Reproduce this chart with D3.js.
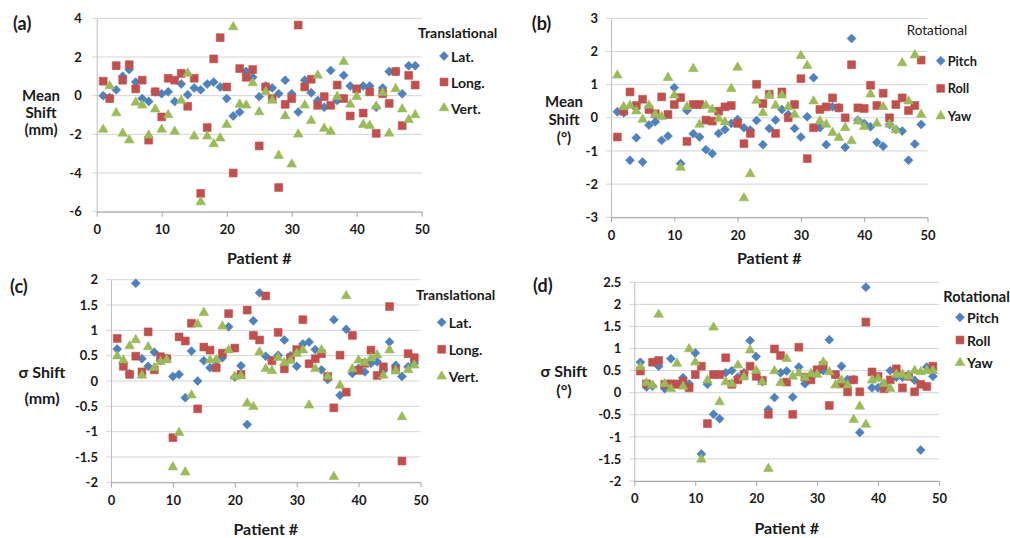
<!DOCTYPE html>
<html>
<head>
<meta charset="utf-8">
<script src="https://cdn.jsdelivr.net/npm/d3@7"></script>
<style>
html,body{margin:0;padding:0;background:#fff;}
svg text{font-family:Lato,"Open Sans",sans-serif;fill:#1a1a1a;}
</style>
</head>
<body>
<svg id="chart" width="1010" height="538"></svg>
<script>
// ---------- data ----------
const patients = [1,2,3,4,5,6,7,8,9,10,11,12,13,14,15,16,17,18,19,20,21,22,23,24,25,26,27,28,29,30,31,32,33,34,35,36,37,38,39,40,41,42,43,44,45,46,47,48,49];
const xTickValues = [0,10,20,30,40,50];

// (a) mean translational shift (mm)
const aLat  = [0.0,-0.1,0.3,1.0,1.35,0.7,-0.15,-0.3,0.2,0.1,0.2,-0.3,0.6,0.05,0.4,0.3,0.6,0.7,0.45,-0.15,-1.05,-0.85,1.25,0.95,-0.05,0.5,0.4,0.1,0.8,0.1,-0.85,0.8,0.15,-0.25,-0.6,1.3,-0.25,1.05,0.5,0.35,0.5,0.5,-0.6,0.4,1.25,1.25,0.1,1.55,1.55];
const aLong = [0.75,-0.15,1.55,0.8,1.6,0.35,0.8,-2.3,0.2,-1.1,0.9,0.8,1.15,-0.55,0.9,-5.05,-1.65,1.9,3.0,0.45,-4.0,1.4,0.95,1.35,-2.6,0.45,-0.15,-4.75,-0.45,-0.15,3.65,0.45,0.85,-0.5,-0.05,-0.5,0.55,-0.15,-1.05,0.35,-0.9,0.2,-1.95,0.1,-0.4,1.25,-1.55,1.05,0.55];
const aVert = [-1.75,0.5,-0.9,-1.95,-2.3,-0.35,-0.5,-2.05,-0.7,-1.75,-1.0,-1.85,-0.25,1.15,-2.1,-5.5,-2.1,-2.5,-2.2,-1.5,3.55,-0.45,-0.5,0.65,-0.85,0.2,-0.25,-3.1,-1.05,-3.55,-2.0,-0.5,-1.3,1.05,-1.7,-1.85,-0.05,1.75,-0.45,-0.05,-1.5,-1.55,-0.55,0.15,-1.95,0.35,-0.7,-1.25,-1.0];
const aTicks = [-6,-4,-2,0,2,4];

// (b) mean rotational shift (deg)
const bPitch = [0.18,0.15,-1.28,-0.6,-1.33,-0.22,-0.12,-0.68,-0.55,0.91,-1.38,0.22,-0.48,-0.58,-0.96,-1.08,-0.47,-0.35,-0.17,-0.05,-0.3,-0.37,-0.08,-0.81,-0.32,-0.07,0.25,0.1,-0.32,-0.58,0.03,1.21,-0.3,-0.81,0.33,0.3,-0.89,2.39,-0.07,-0.17,-0.27,-0.74,-0.86,-0.2,-0.35,-0.4,-1.28,-0.79,-0.2];
const bRoll  = [-0.58,0.2,0.78,0.37,0.56,0.25,0.12,0.63,0.1,0.4,0.61,-0.71,0.4,0.4,-0.07,-0.1,0.2,0.33,0.37,-0.17,-0.78,-0.47,1.01,0.43,0.71,-0.47,0.78,0.0,0.4,1.18,-1.23,-0.3,0.25,0.33,0.6,0.3,0.0,1.6,0.3,0.28,0.98,0.37,0.74,0.0,0.4,0.6,0.22,0.37,1.74];
const bYaw   = [1.28,0.33,0.37,0.2,-0.05,0.37,0.1,0.03,1.21,0.68,-1.5,0.33,1.48,-0.2,0.37,0.25,-0.03,-0.13,0.88,1.52,-2.42,-1.69,0.52,0.15,0.68,0.37,0.68,0.33,0.1,1.87,1.57,0.5,-0.1,-0.2,-0.45,-0.6,-0.3,-0.7,-0.1,-0.27,0.71,-0.17,0.33,-0.2,-0.37,1.65,0.5,1.89,0.1];
const bTicks = [-3,-2,-1,0,1,2,3];

// (c) sigma translational shift (mm)
const cLat  = [0.63,0.35,0.15,1.93,0.44,0.29,0.57,0.4,0.45,0.09,0.13,-0.33,0.59,0.0,0.4,0.26,0.3,0.46,1.07,0.08,0.3,-0.86,1.19,1.74,0.49,0.4,0.51,0.81,0.5,0.29,0.73,0.77,0.62,0.22,0.03,1.21,-0.28,1.02,0.15,0.25,0.18,0.35,0.38,0.2,0.77,0.31,0.09,0.28,0.35];
const cLong = [0.84,0.29,0.13,0.49,0.18,0.97,0.22,0.48,0.44,-1.12,0.87,0.79,1.14,-0.55,0.67,0.61,0.26,0.55,1.33,0.65,0.13,1.4,0.9,0.81,1.68,0.4,0.96,0.24,0.46,0.62,1.21,0.34,0.44,0.54,0.09,-0.53,0.51,-0.22,0.9,0.21,0.35,0.61,0.11,0.28,1.47,0.22,-1.58,0.54,0.46];
const cVert = [0.49,0.41,0.69,0.81,0.11,0.67,0.26,0.38,0.42,-1.7,-1.02,-1.8,-0.28,1.12,1.35,0.41,0.42,1.08,0.61,0.09,0.1,-0.44,-0.51,0.57,0.24,0.2,0.46,0.36,0.4,0.54,0.61,-0.48,0.24,0.61,0.09,-1.89,-0.09,1.68,0.24,0.41,0.36,0.45,0.51,0.11,0.61,0.2,-0.71,0.22,0.31];
const cTicks = [-2,-1.5,-1,-0.5,0,0.5,1,1.5,2];

// (d) sigma rotational shift (deg)
const dPitch = [0.69,0.13,0.15,0.6,0.09,0.77,0.2,0.34,0.2,0.9,-1.39,0.19,-0.49,-0.59,0.45,0.5,0.35,0.45,1.18,0.82,0.25,-0.38,-0.11,0.45,0.49,-0.1,0.58,0.2,0.35,0.5,0.5,1.2,0.4,0.6,0.3,0.3,-0.9,2.39,0.11,0.11,0.2,0.5,0.35,0.35,0.4,0.28,-1.3,0.58,0.37];
const dRoll  = [0.49,0.2,0.69,0.73,0.19,0.2,0.19,0.25,0.11,0.41,0.6,-0.7,0.41,0.41,0.79,0.19,0.29,0.41,0.6,0.37,0.28,-0.49,0.99,0.84,0.24,-0.49,1.03,0.35,0.29,0.52,0.62,-0.29,0.41,0.2,0.02,0.29,0.02,1.6,0.47,0.37,0.09,0.29,0.54,0.11,0.37,0.02,0.19,0.14,0.6];
const dYaw   = [0.58,0.22,0.17,1.77,0.2,0.09,0.66,0.14,0.99,0.69,-1.51,0.28,1.48,-0.21,0.24,0.2,0.62,0.35,0.96,0.5,0.24,-1.72,0.49,0.22,0.77,0.37,0.44,0.34,0.43,0.41,0.69,0.47,0.17,0.28,0.17,-0.61,-0.31,-0.72,0.28,0.32,0.2,0.09,0.41,0.41,0.37,0.5,0.47,0.5,0.5];
const dTicks = [-2,-1.5,-1,-0.5,0,0.5,1,1.5,2,2.5];

const transNames = ["Lat.","Long.","Vert."];
const rotNames = ["Pitch","Roll","Yaw"];

// ---------- layout / style ----------
const colors = ["#4F81BD","#C0504D","#9BBB59"];
const shapes = ["diamond","square","triangle"];

const panels = [
  {label:"(a)", lab:[13,23], series:[aLat,aLong,aVert], names:transNames, ticks:aTicks,
   x:[96.7,421.7], y:[211.7,18.3], tickGap:15,
   ytitle:["Mean","Shift","(mm)"], ytx:41, yty:[95,112,129], ytfs:15,
   leg:{title:"Translational", tx:418, ty:32, tw:700, tfs:14, mx:444, my:56, dy:26, fs:14},
   xt:257},
  {label:"(b)", lab:[531.7,23.3], series:[bPitch,bRoll,bYaw], names:rotNames, ticks:bTicks,
   x:[611,927.5], y:[217.3,18.3], tickGap:13,
   ytitle:["Mean","Shift","(°)"], ytx:564, yty:[101,118.5,137], ytfs:15,
   leg:{title:"Rotational", tx:906.7, ty:29.5, tw:400, tfs:13.5, mx:940.7, my:60.7, dy:27.7, fs:12.8},
   xt:257},
  {label:"(c)", lab:[10,286], series:[cLat,cLong,cVert], names:transNames, ticks:cTicks,
   x:[111,420.5], y:[482.3,279.7], tickGap:13,
   ytitle:["σ Shift","(mm)"], ytx:42, yty:[371,397], ytfs:16,
   leg:{title:"Translational", tx:416, ty:294, tw:700, tfs:14, mx:441.7, my:322.3, dy:27, fs:14},
   xt:528},
  {label:"(d)", lab:[533,285], series:[dPitch,dRoll,dYaw], names:rotNames, ticks:dTicks,
   x:[634.3,939], y:[481,282.3], tickGap:13,
   ytitle:["σ Shift","(°)"], ytx:564, yty:[370,389], ytfs:16,
   leg:{title:"Rotational", tx:943.3, ty:296, tw:700, tfs:14.5, mx:960, my:317.3, dy:22.7, fs:14},
   xt:527}
];

const svg = d3.select("#chart");

function markerPath(shape){
  if(shape==="diamond") return d3.symbol(d3.symbolSquare, 40)();
  if(shape==="square") return d3.symbol(d3.symbolSquare, 62)();
  return d3.symbol(d3.symbolTriangle, 40)();
}
function markerTransform(shape, x, y){
  return shape==="diamond" ? `translate(${x},${y}) rotate(45)` : `translate(${x},${y})`;
}

panels.forEach(p => {
  const g = svg.append("g");
  const ticks = p.ticks;
  const xs = d3.scaleLinear().domain([0,50]).range(p.x);
  const ys = d3.scaleLinear().domain([ticks[0], ticks[ticks.length-1]]).range(p.y);

  // gridlines
  g.append("g").selectAll("line").data(ticks).join("line")
    .attr("x1", p.x[0]-5).attr("x2", p.x[1])
    .attr("y1", d=>ys(d)).attr("y2", d=>ys(d))
    .attr("stroke", "#d4d4d4").attr("stroke-width", 1);

  // y axis
  const yAxis = d3.axisLeft(ys).tickValues(ticks).tickSize(0).tickPadding(p.tickGap).tickFormat(d=>String(d));
  const ya = g.append("g").attr("transform", `translate(${p.x[0]},0)`).call(yAxis);
  ya.select(".domain").attr("stroke","#bdbdbd");
  ya.selectAll("text").attr("font-size", 13).attr("font-weight", 700).attr("font-family","Lato");

  // x axis
  const xAxis = d3.axisBottom(xs).tickValues(xTickValues).tickSize(5).tickSizeOuter(0).tickPadding(8).tickFormat(d=>String(d));
  const xa = g.append("g").attr("transform", `translate(0,${p.y[0]})`).call(xAxis);
  xa.select(".domain").attr("stroke","#a6a6a6");
  xa.selectAll(".tick line").attr("stroke","#a6a6a6");
  xa.selectAll("text").attr("font-size", 13).attr("font-weight", 700).attr("font-family","Lato");

  // x title
  g.append("text").attr("x", (p.x[0]+p.x[1])/2).attr("y", p.xt)
    .attr("text-anchor","middle").attr("dominant-baseline","central")
    .attr("font-size", 16).attr("font-weight", 700).text("Patient #");

  // y title
  p.ytitle.forEach((t,i) => {
    g.append("text").attr("x", p.ytx).attr("y", p.yty[i])
      .attr("text-anchor","middle").attr("dominant-baseline","central")
      .attr("font-size", p.ytfs).attr("font-weight", 700).text(t);
  });

  // panel label
  g.append("text").attr("x", p.lab[0]).attr("y", p.lab[1])
    .attr("dominant-baseline","central").attr("font-size", 18).attr("font-weight", 700).text(p.label);

  // series
  p.series.forEach((vals, si) => {
    const shape = shapes[si];
    const path = markerPath(shape);
    g.append("g").selectAll("path").data(vals).join("path")
      .attr("d", path)
      .attr("transform", (v,i) => markerTransform(shape, xs(patients[i]), ys(v)))
      .attr("fill", colors[si]).attr("stroke", colors[si]).attr("stroke-width", 0.6);
  });

  // legend
  const L = p.leg;
  g.append("text").attr("x", L.tx).attr("y", L.ty).attr("dominant-baseline","central")
    .attr("font-size", L.tfs).attr("font-weight", L.tw).text(L.title);
  p.names.forEach((n, si) => {
    const y = L.my + si*L.dy;
    const shape = shapes[si];
    g.append("path").attr("d", markerPath(shape))
      .attr("transform", markerTransform(shape, L.mx, y))
      .attr("fill", colors[si]).attr("stroke", colors[si]).attr("stroke-width",0.6);
    g.append("text").attr("x", L.mx+7).attr("y", y).attr("dominant-baseline","central")
      .attr("font-size", L.fs).attr("font-weight", 700).text(n);
  });
});
</script>
</body>
</html>
